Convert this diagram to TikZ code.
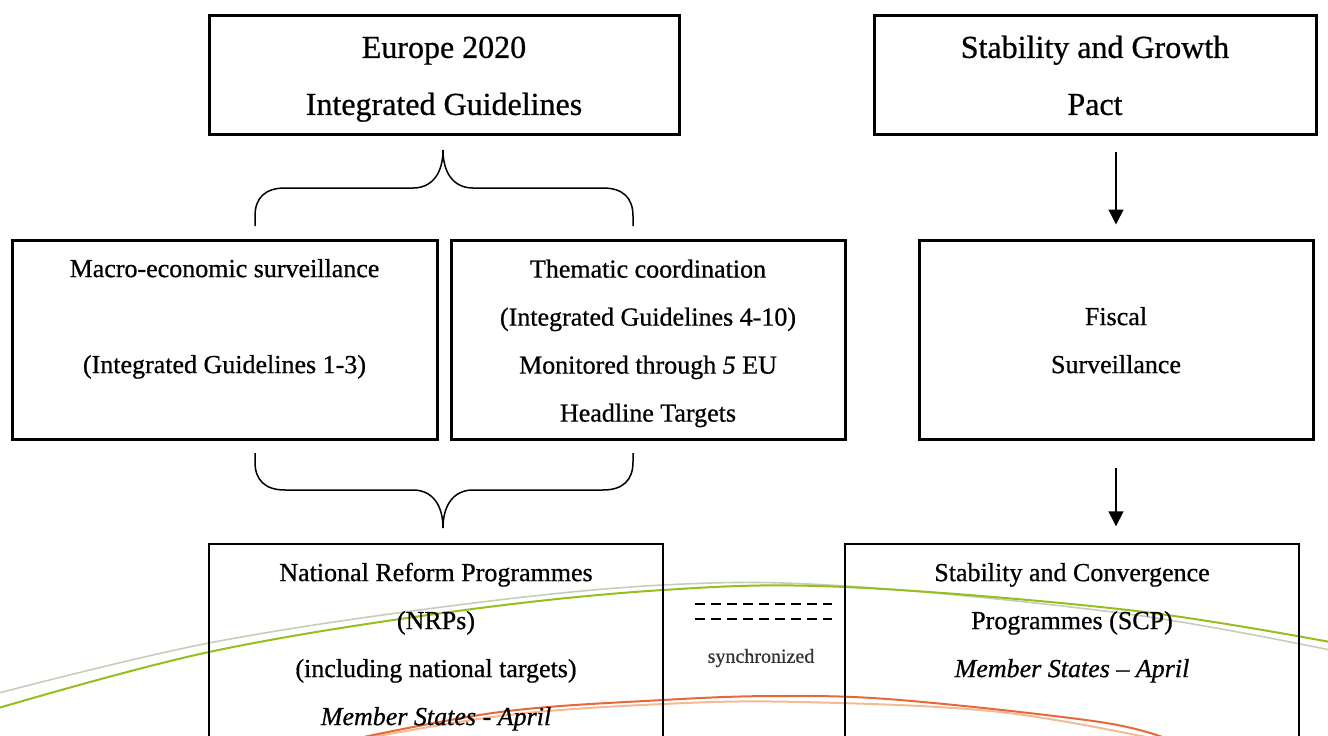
\documentclass[tikz,border=0pt]{standalone}
\usepackage{fontspec}
\setmainfont{Liberation Serif}[FakeBold=0.7]
\usetikzlibrary{arrows.meta}
\definecolor{arcgreen}{RGB}{150,190,30}
\definecolor{arcgrey}{RGB}{200,205,185}
\definecolor{arcorange}{RGB}{230,105,55}
\definecolor{arcpeach}{RGB}{245,185,150}
\tikzset{
  bigbox/.style={draw, line width=3pt, inner sep=0pt, align=center, minimum width=#1},
  thinbox/.style={draw, line width=1.4pt, inner sep=0pt, align=center, minimum width=#1, minimum height=199pt,
     font=\fontsize{26}{48}\selectfont},
  topfont/.style={font=\fontsize{32}{57}\selectfont, minimum height=119pt},
  midfont/.style={font=\fontsize{26}{48}\selectfont, minimum height=199pt},
  arr/.style={line width=1.5pt, -{Triangle[length=15pt,width=15pt]}},
  bracepath/.style={line width=1.5pt, line join=round},
  syncdash/.style={line width=2pt, dash pattern=on 10pt off 6pt}
}
\begin{document}
\begin{tikzpicture}[x=1pt,y=-1pt]
\useasboundingbox (0,0) rectangle (1328,736);
\clip (0,0) rectangle (1328,736);
% decorative arcs
\draw[arcgrey, line width=1.6pt] plot[smooth, tension=0.6] coordinates {(-5,694) (209,643) (450,606) (663,585) (845,586) (1128,614) (1330,650)};
\draw[arcgreen, line width=2pt] plot[smooth, tension=0.6] coordinates {(-5,709) (209,652) (450,612) (663,590) (845,587) (1128,610) (1330,642)};
\draw[arcpeach, line width=2pt] plot[smooth, tension=0.6] coordinates {(330,745) (500,716) (663,704) (800,702) (1000,712) (1170,742)};
\draw[arcorange, line width=2pt] plot[smooth, tension=0.6] coordinates {(340,742) (500,712) (663,700) (780,696) (900,700) (1100,722) (1170,740)};
% boxes
\node[bigbox=470pt, topfont] (eu) at (444,75) {\strut Europe 2020\\\strut Integrated Guidelines};
\node[bigbox=442pt, topfont] (sgp) at (1095,75) {\strut Stability and Growth\\\strut Pact};
\node[bigbox=425pt, midfont] (macro) at (224.5,339.5) {\strut Macro-economic surveillance\\\strut\\\strut (Integrated Guidelines 1-3)\\\strut};
\node[bigbox=394pt, midfont] (them) at (648,340) {\strut Thematic coordination\\\strut (Integrated Guidelines 4-10)\\\strut Monitored through \textit{5} EU\\\strut Headline Targets};
\node[bigbox=394pt, midfont] (fisc) at (1116,339.5) {\strut\\\strut Fiscal\\\strut Surveillance\\\strut};
\node[thinbox=454pt] (nrp) at (436,643.5) {\strut National Reform Programmes\\\strut (NRPs)\\\strut (including national targets)\\\strut\textit{Member States - April}};
\node[thinbox=454pt] (scp) at (1072,643.5) {\strut Stability and Convergence\\\strut Programmes (SCP)\\\strut\textit{Member States – April}\\\strut};
% arrows
\draw[arr, shorten <=16pt, shorten >=14pt] (fisc.north |- sgp.south) -- (fisc.north);
\draw[arr, shorten <=27pt, shorten >=17pt] (fisc.south) -- (fisc.south |- scp.north);
% braces
\coordinate (tt) at (443,150);
\coordinate (bt) at (443,528);
\draw[bracepath] (255,226) -- (255,216) .. controls (255,198) and (265,188) .. (285,188) -- (413,188) .. controls (433,188) and (443,172) .. (tt);
\draw[bracepath] (633,226) -- (633,216) .. controls (633,198) and (623,188) .. (603,188) -- (473,188) .. controls (453,188) and (443,172) .. (tt);
\draw[bracepath] (255,453) -- (255,462) .. controls (255,480) and (265,490) .. (285,490) -- (413,490) .. controls (433,490) and (443,506) .. (bt);
\draw[bracepath] (633,453) -- (633,462) .. controls (633,480) and (623,490) .. (603,490) -- (473,490) .. controls (453,490) and (443,506) .. (bt);
% synchronized
\coordinate (d1a) at (695,604);
\coordinate (d1b) at (832,604);
\coordinate (d2a) at (695,619);
\coordinate (d2b) at (832,619);
\draw[syncdash] (d1a) -- (d1b);
\draw[syncdash] (d2a) -- (d2b);
\node[font=\fontsize{20}{24}\selectfont, text=black!80] (sync) at (761,658) {synchronized};
\end{tikzpicture}
\end{document}
